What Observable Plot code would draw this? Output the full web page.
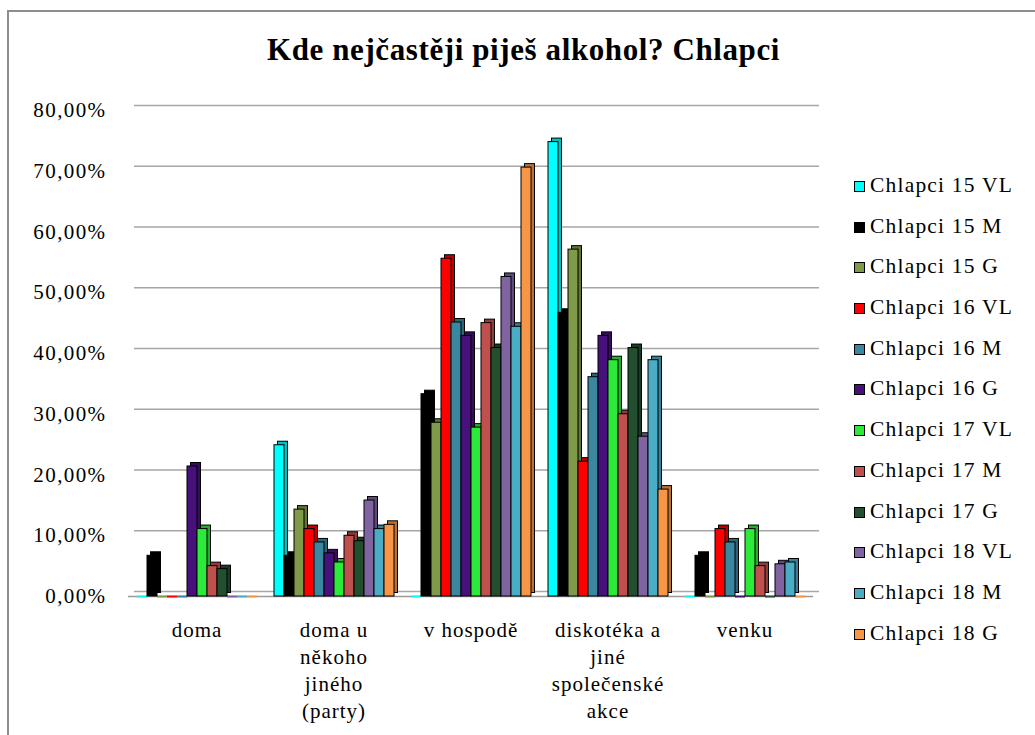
<!DOCTYPE html>
<html>
<head>
<meta charset="utf-8">
<script src="https://cdn.jsdelivr.net/npm/d3@7"></script>
<script src="https://cdn.jsdelivr.net/npm/@observablehq/plot@0.6"></script>
<style>
  html, body { margin: 0; padding: 0; background: #fff; overflow: hidden; font-family: 'Liberation Serif', 'Times New Roman', serif; }
  #page { position: relative; width: 1035px; height: 735px; overflow: hidden; }
  #frame { position: absolute; left: 7px; top: 10px; width: 1200px; height: 900px; border-left: 2px solid #8e8e8e; border-top: 2px solid #8e8e8e; }
  #title { position: relative; height: 90px; line-height: 100px; text-align: center; padding-left: 12px; font-weight: bold; font-size: 31px; letter-spacing: 0.6px; color: #000; }
  #chart { position: absolute; left: 0; top: 90px; }
  #legend { position: absolute; left: 854px; top: 165px; }
  .item { height: 40.7px; line-height: 40.7px; font-size: 21.5px; letter-spacing: 1.2px; color: #000; white-space: nowrap; }
  .sw { display: inline-block; width: 9px; height: 9px; border: 1.5px solid #000; margin-right: 5px; vertical-align: 0px; }
</style>
</head>
<body>
<div id="page">
  <div id="frame"></div>
  <div id="title">Kde nejčastěji piješ alkohol? Chlapci</div>
  <div id="chart"></div>
  <div id="legend"></div>
</div>
<script>
const categories = ["doma", "doma u\nněkoho\njiného\n(party)", "v hospodě", "diskotéka a\njiné\nspolečenské\nakce", "venku"];
const series = ["Chlapci 15 VL", "Chlapci 15 M", "Chlapci 15 G", "Chlapci 16 VL", "Chlapci 16 M", "Chlapci 16 G",
                "Chlapci 17 VL", "Chlapci 17 M", "Chlapci 17 G", "Chlapci 18 VL", "Chlapci 18 M", "Chlapci 18 G"];
const colors = ["#00ffff", "#000000", "#7f9a48", "#ff0000", "#3a87a0", "#46117a",
                "#2cea3a", "#c0504d", "#234f2e", "#8064a2", "#4bacc6", "#f79646"];
// values in %, one array per series, in the order of categories
const v15VL = [0, 24.9, 0, 74.8, 0];
const v15M  = [6.7, 6.7, 33.3, 46.7, 6.7];
const v15G  = [0, 14.3, 28.6, 57.1, 0];
const v16VL = [0, 11.1, 55.6, 22.2, 11.1];
const v16M  = [0, 8.9, 45.1, 36.1, 8.9];
const v16G  = [21.4, 7.1, 42.9, 42.9, 0];
const v17VL = [11.1, 5.6, 27.8, 38.9, 11.1];
const v17M  = [5.0, 10.0, 45.0, 30.0, 5.0];
const v17G  = [4.5, 9.1, 40.9, 40.9, 0];
const v18VL = [0, 15.8, 52.6, 26.3, 5.3];
const v18M  = [0, 11.1, 44.4, 38.9, 5.6];
const v18G  = [0, 11.8, 70.6, 17.6, 0];
const yTicks = [0, 10, 20, 30, 40, 50, 60, 70, 80];

const valueSets = [v15VL, v15M, v15G, v16VL, v16M, v16G, v17VL, v17M, v17G, v18VL, v18M, v18G];
const colorOf = Object.fromEntries(series.map((s, i) => [s, colors[i]]));
const sideOf = Object.fromEntries(series.map((s, i) => [s, d3.color(colors[i]).darker(0.8).formatHex()]));
const data = [];
series.forEach((s, i) => categories.forEach((c, j) => data.push({cat: c, series: s, value: valueSets[i][j]})));

const fmt = d => d.toFixed(2).replace(".", ",") + "%";
const serif = "'Liberation Serif', serif";

const chart = Plot.plot({
  width: 830,
  height: 645,
  marginTop: 20,
  marginLeft: 128,
  marginRight: 17,
  marginBottom: 139,
  style: {fontFamily: serif, background: "transparent"},
  fx: {domain: categories, padding: 0, label: null},
  x: {domain: series, paddingInner: 0, paddingOuter: 0.7, axis: null},
  y: {domain: [0, 80], axis: null},
  marks: [
    Plot.ruleY(yTicks, {y: d => d, stroke: "#a6a6a6", strokeWidth: 1.6, dx: 6, dy: -5}),
    Plot.ruleY([0], {stroke: "#9a9a9a", strokeWidth: 1.5}),
    Plot.tickY(data, {fx: "cat", x: "series", y: "value", stroke: d => colorOf[d.series], strokeWidth: 2, filter: d => d.value === 0}),
    Plot.barY(data, {fx: "cat", x: "series", y: "value", fill: d => sideOf[d.series], stroke: "#000", strokeWidth: 1, dx: 3.5, dy: -3.5}),
    Plot.barY(data, {fx: "cat", x: "series", y: "value", fill: d => colorOf[d.series], stroke: "#000", strokeWidth: 1}),
    Plot.axisY(yTicks, {tickFormat: fmt, tickSize: 0, tickPadding: 22, fontSize: 21, fontFamily: serif, fill: "#000", label: null}),
    Plot.ruleX([0], {y1: 0, y2: 80, stroke: "#9a9a9a", strokeWidth: 1.6, facetAnchor: "left"}),
    Plot.axisFx({anchor: "bottom", tickSize: 0, tickPadding: 21, fontSize: 21, fontFamily: serif, lineHeight: 1.286, fill: "#000", label: null})
  ]
});
// spread glyphs a little, like the reference's rendering
chart.querySelectorAll("g[aria-label='y-axis tick label'] text").forEach(t => t.setAttribute("letter-spacing", "1.4"));
chart.querySelectorAll("g[aria-label='fx-axis tick label'] text").forEach(t => t.setAttribute("letter-spacing", "1"));
document.getElementById("chart").appendChild(chart);

const legend = document.getElementById("legend");
series.forEach(s => {
  const row = document.createElement("div");
  row.className = "item";
  const sw = document.createElement("span");
  sw.className = "sw";
  sw.style.background = colorOf[s];
  row.appendChild(sw);
  row.appendChild(document.createTextNode(s));
  legend.appendChild(row);
});
</script>
</body>
</html>
